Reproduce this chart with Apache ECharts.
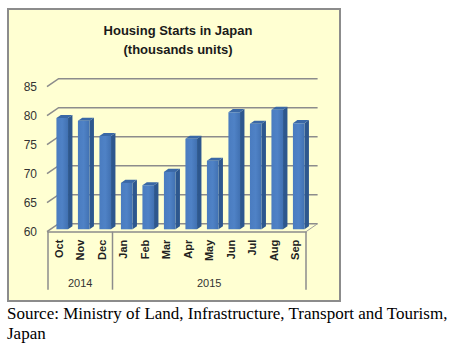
<!DOCTYPE html>
<html>
<head>
<meta charset="utf-8">
<script src="https://cdn.jsdelivr.net/npm/echarts@6/dist/echarts.min.js"></script>
<style>
html,body{margin:0;padding:0;background:#fff;}
#chart{width:456px;height:346px;}
</style>
</head>
<body>
<div id="chart"></div>
<script>
// ---- data ----
var months = ['Oct','Nov','Dec','Jan','Feb','Mar','Apr','May','Jun','Jul','Aug','Sep'];
var starts = [79.2, 78.7, 76.1, 68.0, 67.6, 69.9, 75.6, 71.8, 80.2, 78.2, 80.6, 78.3];
var yearLabels = ['2014', '2015'];
var yearCounts = [3, 9];
var yTicks = [60, 65, 70, 75, 80, 85];

var titleText = 'Housing Starts in Japan\n(thousands units)';
var sourceText = 'Source: Ministry of Land, Infrastructure, Transport and Tourism,\nJapan';

// ---- derived ----
var barData = starts.map(function (v, i) { return [i, v]; });
var yearGroups = [];
var acc = 0;
yearLabels.forEach(function (y, k) {
  yearGroups.push([acc, acc + yearCounts[k] - 1, k]);
  acc += yearCounts[k];
});

// 3D depth vector (wall depth) and bar placement within it
var DX = 11.6, DY = -8;
var BAR_OFF = 0.3, BAR_DEPTH = 0.38;
var yMin = yTicks[0], yMax = yTicks[yTicks.length - 1];

var chart = echarts.init(document.getElementById('chart'), null, {renderer: 'svg'});

var option = {
  backgroundColor: '#ffffff',
  animation: false,
  graphic: [{
    type: 'rect', left: 7, top: 8, z: -10,
    shape: {width: 332, height: 292},
    style: {fill: '#FFFFD2', stroke: '#8c8c8c', lineWidth: 2}
  }],
  title: [{
    text: titleText,
    left: 173, top: 15.5, textAlign: 'center',
    textStyle: {fontFamily: 'Liberation Sans', fontWeight: 'bold', fontSize: 13, lineHeight: 19, color: '#1a1a1a'}
  }, {
    text: sourceText,
    left: 2, top: 298, padding: 5,
    textStyle: {fontFamily: 'Liberation Serif', fontWeight: 'normal', fontSize: 17, lineHeight: 20, color: '#000'}
  }],
  grid: {left: 48, right: 150, top: 86.7, bottom: 114.3, containLabel: false},
  xAxis: {
    type: 'category', data: months,
    axisLine: {show: true, lineStyle: {color: '#8c8c8c', width: 1.5}},
    axisTick: {show: false},
    axisLabel: {rotate: 90, margin: 8, fontFamily: 'Liberation Sans', fontWeight: 'bold', fontSize: 11, color: '#222'}
  },
  yAxis: {
    type: 'value', min: yMin, max: yMax, interval: 5,
    axisLine: {show: false}, axisTick: {show: false}, splitLine: {show: false},
    axisLabel: {margin: 11, fontFamily: 'Liberation Sans', fontSize: 12, color: '#333'}
  },
  series: [{
    type: 'custom',
    silent: true,
    data: yTicks.map(function (t) { return [0, t]; }),
    encode: {x: 0, y: 1},
    z: 1,
    renderItem: function (params, api) {
      var cs = params.coordSys;
      var y = api.coord([0, api.value(1)])[1];
      var x0 = cs.x - 1, x1 = cs.x + cs.width;
      var children = [{
        type: 'polyline',
        shape: {points: [[x0, y], [x0 + DX, y + DY], [x1 + DX, y + DY]]},
        style: {stroke: '#8c8c8c', lineWidth: 1.6, fill: null}
      }];
      if (api.value(1) === yMin) {
        children.push({
          type: 'line',
          shape: {x1: x1, y1: y, x2: x1 + DX, y2: y + DY},
          style: {stroke: '#a0a0a0', lineWidth: 1}
        });
      }
      return {type: 'group', children: children};
    }
  }, {
    type: 'custom',
    silent: true,
    data: barData,
    encode: {x: 0, y: 1},
    z: 3,
    renderItem: function (params, api) {
      var i = api.value(0), v = api.value(1);
      var base = api.coord([i, yMin]);
      var top = api.coord([i, v]);
      var band = api.size([1, 0])[0];
      var bw = band * 0.54;
      var ox = DX * BAR_OFF, oy = DY * BAR_OFF;
      var dx = DX * BAR_DEPTH, dy = DY * BAR_DEPTH;
      var xl = base[0] - bw / 2 + ox, xr = xl + bw;
      var yb = base[1] + oy, yt = top[1] + oy;
      return {
        type: 'group',
        children: [{
          type: 'polygon',
          shape: {points: [[xr, yb], [xr + dx, yb + dy], [xr + dx, yt + dy], [xr, yt]]},
          style: {fill: '#2d578e'}
        }, {
          type: 'polygon',
          shape: {points: [[xl, yt], [xr, yt], [xr + dx, yt + dy], [xl + dx, yt + dy]]},
          style: {fill: '#3a68a6'}
        }, {
          type: 'rect',
          shape: {x: xl, y: yt, width: bw, height: yb - yt},
          style: {fill: new echarts.graphic.LinearGradient(0, 0, 1, 0, [
            {offset: 0, color: '#4a7cc0'}, {offset: 0.5, color: '#4f82c6'}, {offset: 1, color: '#4171b2'}
          ])}
        }]
      };
    }
  }, {
    type: 'custom',
    silent: true,
    data: yearGroups,
    encode: {x: [0, 1]},
    z: 2,
    renderItem: function (params, api) {
      var s = api.value(0), e = api.value(1), k = api.value(2);
      var band = api.size([1, 0])[0];
      var xs = api.coord([s, yMin])[0] - band / 2;
      var xe = api.coord([e, yMin])[0] + band / 2;
      var y0 = api.coord([s, yMin])[1];
      var children = [{
        type: 'line', shape: {x1: xs, y1: y0, x2: xs, y2: y0 + 58},
        style: {stroke: '#8c8c8c', lineWidth: 1.5}
      }];
      if (k === yearLabels.length - 1) {
        children.push({
          type: 'line', shape: {x1: xe, y1: y0, x2: xe, y2: y0 + 58},
          style: {stroke: '#8c8c8c', lineWidth: 1.5}
        });
      }
      children.push({
        type: 'text',
        style: {
          x: (xs + xe) / 2, y: y0 + 51, text: yearLabels[k],
          textAlign: 'center', textVerticalAlign: 'middle',
          font: '11px "Liberation Sans"', fill: '#333'
        }
      });
      return {type: 'group', children: children};
    }
  }]
};
chart.setOption(option);
</script>
</body>
</html>
